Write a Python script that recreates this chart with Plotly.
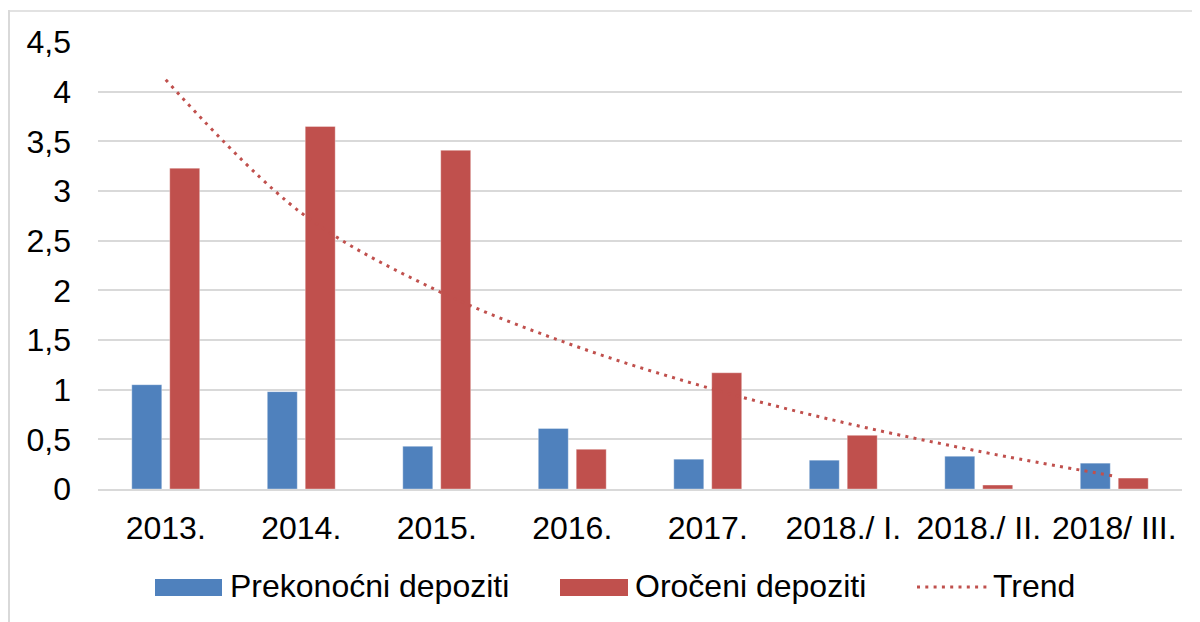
import plotly.graph_objects as go

categories = ["2013.", "2014.", "2015.", "2016.", "2017.", "2018./ I.", "2018./ II.", "2018/ III."]
prekonocni = [1.05, 0.98, 0.43, 0.61, 0.30, 0.29, 0.33, 0.26]
oroceni = [3.23, 3.65, 3.41, 0.40, 1.17, 0.54, 0.04, 0.11]
trend = [4.12, 2.78, 2.00, 1.45, 1.02, 0.67, 0.38, 0.13]
y_ticks = [0, 0.5, 1, 1.5, 2, 2.5, 3, 3.5, 4, 4.5]
y_tick_labels = ["0", "0,5", "1", "1,5", "2", "2,5", "3", "3,5", "4", "4,5"]
legend_names = ["Prekonoćni depoziti", "Oročeni depoziti", "Trend"]

BLUE = "#4F81BD"
RED = "#C0504D"
GRID = "#D9D9D9"
FONT = "Liberation Sans, Arial, sans-serif"

OFF = 8  # browser default body margin
W, H = 1200 - OFF, 622 - OFF
L, R, T, B = 98 - OFF, 18, 42 - OFF, 133
PW, PH = W - L - R, H - T - B


def px(x):
    # page pixel -> paper coordinate
    return (x - OFF - L) / PW


def py(y):
    return (H - B - (y - OFF)) / PH


fig = go.Figure()
fig.add_trace(go.Bar(x=categories, y=prekonocni, name=legend_names[0],
                     marker=dict(color=BLUE, line=dict(color="rgba(255,255,255,0.35)", width=1))))
fig.add_trace(go.Bar(x=categories, y=oroceni, name=legend_names[1],
                     marker=dict(color=RED, line=dict(color="rgba(255,255,255,0.35)", width=1))))
fig.add_trace(go.Scatter(x=categories, y=trend, name=legend_names[2], mode="lines",
                         line=dict(color=RED, width=3, dash="3px,5.3px", shape="spline", smoothing=1)))

shapes = [
    # outer border (left + top)
    dict(type="line", xref="paper", yref="paper", x0=px(9), x1=px(9), y0=py(10), y1=py(640),
         line=dict(color=GRID, width=2)),
    dict(type="line", xref="paper", yref="paper", x0=px(8), x1=px(1210), y0=py(11), y1=py(11),
         line=dict(color=GRID, width=1.6)),
    # custom legend swatches
    dict(type="rect", xref="paper", yref="paper", x0=px(155), x1=px(222), y0=py(596), y1=py(579),
         fillcolor=BLUE, line=dict(width=0)),
    dict(type="rect", xref="paper", yref="paper", x0=px(560), x1=px(628), y0=py(596), y1=py(579),
         fillcolor=RED, line=dict(width=0)),
    dict(type="line", xref="paper", yref="paper", x0=px(917), x1=px(987), y0=py(587), y1=py(587),
         line=dict(color=RED, width=3, dash="3px,5.3px")),
]

annotations = []
for name, xpos in zip(legend_names, [228, 633, 991]):
    annotations.append(dict(text=name, xref="paper", yref="paper", x=px(xpos), y=py(586),
                            xanchor="left", yanchor="middle", showarrow=False,
                            font=dict(family=FONT, size=32, color="#000000")))

fig.update_layout(
    width=W, height=H,
    margin=dict(l=L, r=R, t=T, b=B, autoexpand=False),
    paper_bgcolor="white", plot_bgcolor="white",
    barmode="group", bargap=0.44, bargroupgap=0.21,
    showlegend=False,
    shapes=shapes, annotations=annotations,
    font=dict(family=FONT, size=32, color="#000000"),
)
fig.update_xaxes(showgrid=False, showline=True, linecolor=GRID, linewidth=2,
                 ticks="", ticklabelstandoff=10, tickfont=dict(size=32, color="#000000"))
fig.update_yaxes(range=[0, 4.5], tickvals=y_ticks, ticktext=y_tick_labels,
                 showgrid=True, gridcolor=GRID, gridwidth=1.5, zeroline=False,
                 showline=False, ticks="", ticklabelstandoff=26,
                 tickfont=dict(size=32, color="#000000"))

fig.write_html("out.html")
